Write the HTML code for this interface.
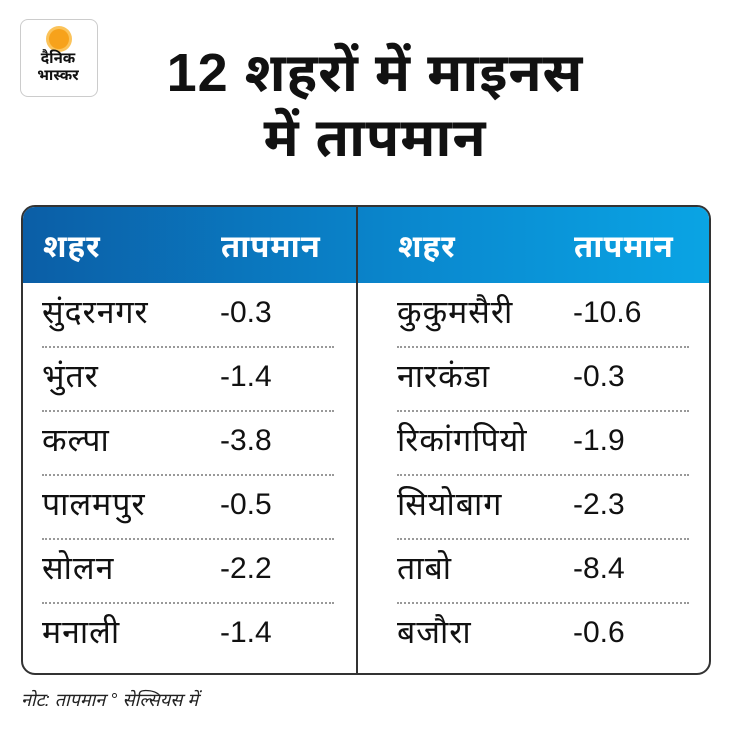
<!DOCTYPE html><html><head><meta charset="utf-8"><style>
body{margin:0;width:730px;height:744px;background:#fff;position:relative;font-family:"Liberation Sans","Noto Sans Devanagari","Lohit Devanagari",sans-serif;color:#111;overflow:hidden}
.a{position:absolute;white-space:nowrap}
.logo{left:20px;top:19px;width:76px;height:76px;border:1px solid #ccc;border-radius:8px}
.sun{left:49px;top:29px;width:20px;height:20px;border-radius:50%;background:#f7a21b;box-shadow:0 0 0 3px #fbc35a}
.t{font-weight:bold;font-size:54px;left:0;width:730px;text-align:center;letter-spacing:1px}
.box{left:21px;top:205px;width:686px;height:466px;border:2px solid #333;border-radius:14px;overflow:hidden}
.hd{left:0;top:0;width:686px;height:76px;background:linear-gradient(90deg,#0b5ea6,#0a8ad0 60%,#0aa4e4)}
.h{color:#fff;font-weight:bold;font-size:31px;letter-spacing:1px}
.c{font-size:30px}
.n{font-size:32px;letter-spacing:1px}
.dot{height:0;border-top:2px dotted #999}
</style></head><body>
<div class="a logo"></div><div class="a sun"></div>
<div class="a" style="left:26px;top:50px;width:64px;text-align:center;font-weight:bold;font-size:15px;line-height:17px">दैनिक<br>भास्कर</div>
<div class="a t" style="top:42px;padding-left:10px">12 शहरों में माइनस</div>
<div class="a t" style="top:107px;padding-left:10px">में तापमान</div>
<div class="a box"><div class="a hd"></div>
<div class="a" style="left:333px;top:0;width:2px;height:466px;background:#333"></div>
<div class="a h" style="left:20px;top:22px">शहर</div><div class="a h" style="left:198px;top:22px">तापमान</div>
<div class="a h" style="left:375px;top:22px">शहर</div><div class="a h" style="left:551px;top:22px">तापमान</div>
</div>
<div id="rows"></div>
<script>
var L=[["सुंदरनगर","-0.3"],["भुंतर","-1.4"],["कल्पा","-3.8"],["पालमपुर","-0.5"],["सोलन","-2.2"],["मनाली","-1.4"]];
var R=[["कुकुमसैरी","-10.6"],["नारकंडा","-0.3"],["रिकांगपियो","-1.9"],["सियोबाग","-2.3"],["ताबो","-8.4"],["बजौरा","-0.6"]];
var h="";for(var i=0;i<6;i++){var y=296+i*64;
h+='<div class="a n" style="left:42px;top:'+(y-2)+'px">'+L[i][0]+'</div><div class="a c" style="left:220px;top:'+y+'px">'+L[i][1]+'</div>';
h+='<div class="a n" style="left:397px;top:'+(y-2)+'px">'+R[i][0]+'</div><div class="a c" style="left:573px;top:'+y+'px">'+R[i][1]+'</div>';
if(i<5){h+='<div class="a dot" style="left:42px;width:292px;top:'+(346+i*64)+'px"></div><div class="a dot" style="left:397px;width:292px;top:'+(346+i*64)+'px"></div>';}}
document.getElementById("rows").innerHTML=h;
</script>
<div class="a" style="left:21px;top:690px;font-size:18px;font-style:italic;color:#222">नोट: तापमान  ° सेल्सियस में</div>
</body></html>
